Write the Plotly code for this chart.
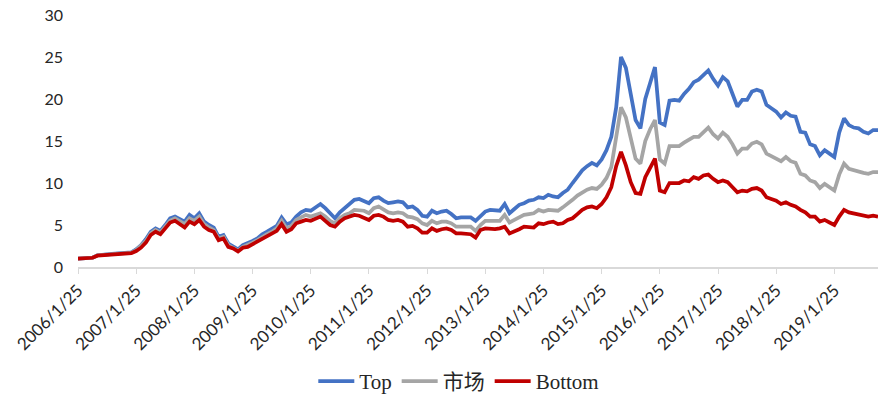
import plotly.graph_objects as go

years = list(range(2006, 2020))
dates = [f"{y}/{m}/25" for y in years for m in range(1, 13)][:166]
tick_labels = [f"{y}/1/25" for y in years]

top = [
    1.0, 1.0, 1.0, 1.1, 1.4, 1.5, 1.5, 1.55, 1.6, 1.65, 1.65, 1.75,
    2.1, 2.6, 3.3, 4.2, 4.6, 4.3, 5.0, 5.8, 6.0, 5.7, 5.4, 6.2,
    5.8, 6.4, 5.4, 5.0, 4.7, 3.6, 3.8, 2.8, 2.5, 2.1, 2.6, 2.8,
    3.1, 3.4, 3.9, 4.2, 4.5, 4.9, 5.9, 5.1, 5.3, 6.0, 6.5, 6.8,
    6.7, 7.1, 7.5, 7.0, 6.4, 5.8, 6.5, 7.0, 7.4, 8.0, 8.1, 7.9,
    7.6, 8.2, 8.3, 7.9, 7.6, 7.7, 7.8, 7.7, 7.1, 7.2, 6.8, 6.1,
    6.0, 6.7, 6.4, 6.6, 6.7, 6.3, 5.8, 5.9, 5.9, 5.9, 5.5, 6.1,
    6.6, 6.8, 6.8, 6.7, 7.5, 6.4, 6.9, 7.4, 7.6, 7.9, 8.0, 8.3,
    8.2, 8.6, 8.4, 8.3, 8.8, 9.2, 10.0, 10.8, 11.5, 12.0, 12.4, 12.1,
    12.8, 13.9, 15.5, 19.0, 25.0, 23.7, 20.5, 17.5, 16.5, 20.0, 21.9, 23.8,
    17.2, 16.9, 19.8, 19.9, 19.8, 20.6, 21.2, 22.0, 22.3, 22.8, 23.4, 22.4,
    21.6, 22.6, 22.1, 20.6, 19.1, 19.9, 19.9, 20.9, 21.1, 20.9, 19.3, 18.9,
    18.5, 17.8, 18.4, 18.0, 17.9, 16.1, 16.0, 14.6, 14.4, 13.3, 13.9, 13.5,
    13.1, 16.0, 17.7, 16.9, 16.6, 16.5, 16.1, 15.9, 16.3, 16.3,
]

market = [
    1.0, 1.0, 1.0, 1.1, 1.4, 1.45, 1.5, 1.5, 1.55, 1.6, 1.6, 1.7,
    2.0, 2.5, 3.1, 4.0, 4.4, 4.1, 4.8, 5.5, 5.8, 5.4, 5.1, 5.8,
    5.5, 6.0, 5.1, 4.7, 4.4, 3.4, 3.6, 2.6, 2.3, 1.95, 2.4, 2.6,
    2.9, 3.2, 3.6, 3.9, 4.2, 4.6, 5.5, 4.6, 4.9, 5.6, 5.9, 6.2,
    6.0, 6.2, 6.4, 6.0, 5.5, 5.2, 5.8, 6.2, 6.4, 6.8, 6.8, 6.7,
    6.4, 7.0, 7.2, 6.9, 6.5, 6.4, 6.5, 6.4, 6.0, 5.9, 5.7, 5.2,
    5.0, 5.5, 5.2, 5.4, 5.4, 5.2, 4.8, 4.8, 4.8, 4.8, 4.3, 5.0,
    5.5, 5.5, 5.4, 5.5, 6.2, 5.3, 5.6, 5.9, 6.2, 6.3, 6.4, 6.8,
    6.6, 6.8, 6.7, 6.7, 7.1, 7.5, 8.0, 8.5, 8.9, 9.2, 9.4, 9.3,
    9.8, 10.6, 11.9, 15.5, 19.0, 17.8, 15.1, 12.9, 12.3, 15.0, 16.4, 17.5,
    12.8, 12.3, 14.4, 14.4, 14.4, 14.8, 15.1, 15.5, 15.5, 16.0, 16.6, 15.8,
    15.3, 16.0, 15.5, 14.6, 13.5, 14.1, 14.1, 14.7, 14.9, 14.6, 13.5, 13.2,
    12.9, 12.6, 13.1, 12.6, 12.4, 11.1, 10.9, 10.3, 10.1, 9.4, 9.9, 9.5,
    9.1, 11.0, 12.3, 11.7, 11.5, 11.3, 11.2, 11.1, 11.3, 11.3,
]

bottom = [
    1.0, 1.0, 1.0, 1.1, 1.35, 1.4, 1.45, 1.5, 1.5, 1.55, 1.55, 1.65,
    1.9, 2.3, 2.9, 3.8, 4.2, 3.9, 4.6, 5.3, 5.5, 5.1, 4.7, 5.4,
    5.1, 5.6, 4.8, 4.4, 4.2, 3.2, 3.4, 2.4, 2.2, 1.85, 2.3, 2.4,
    2.7, 3.0, 3.4, 3.7, 3.9, 4.3, 5.1, 4.2, 4.5, 5.2, 5.4, 5.6,
    5.5, 5.7, 6.0, 5.5, 5.0, 4.8, 5.4, 5.8, 6.0, 6.2, 6.1, 5.9,
    5.6, 6.1, 6.2, 6.0, 5.6, 5.5, 5.6, 5.4, 4.8, 4.9, 4.6, 4.1,
    4.1, 4.6, 4.3, 4.5, 4.6, 4.4, 4.0, 4.0, 4.0, 3.9, 3.5, 4.4,
    4.6, 4.5, 4.5, 4.6, 4.8, 4.0, 4.2, 4.5, 4.8, 4.8, 4.7, 5.2,
    5.1, 5.3, 5.4, 5.1, 5.2, 5.6, 5.8, 6.3, 6.8, 7.1, 7.2, 7.0,
    7.5, 8.3, 9.5, 12.0, 13.7, 12.1, 10.1, 8.8, 8.7, 10.7, 11.9, 12.9,
    9.1, 8.9, 10.0, 10.0, 10.0, 10.3, 10.2, 10.7, 10.5, 10.9, 11.0, 10.5,
    10.1, 10.3, 10.1, 9.5, 8.9, 9.1, 9.0, 9.3, 9.4, 9.1, 8.3, 8.1,
    7.9, 7.5, 7.7, 7.4, 7.2, 6.8, 6.5, 6.0, 6.0, 5.4, 5.6, 5.3,
    5.0, 6.0, 6.8, 6.5, 6.4, 6.3, 6.1, 6.0, 6.1, 6.0,
]

series = [("Top", top, "#4472C4"), ("市场", market, "#A5A5A5"), ("Bottom", bottom, "#C00000")]

fig = go.Figure()
for name, vals, color in series:
    fig.add_trace(go.Scatter(
        x=dates, y=vals, name=name, mode="lines",
        line=dict(color=color, width=3.75),
    ))

fig.update_layout(
    width=894, height=402,
    margin=dict(l=78, r=16, t=15, b=135, autoexpand=False),
    plot_bgcolor="white", paper_bgcolor="white",
    showlegend=True,
    legend=dict(
        orientation="h", x=0.476, xanchor="center", y=-0.454, yanchor="middle",
        font=dict(family="Liberation Serif, Noto Sans CJK SC", size=21, color="#262626"),
        itemwidth=36, tracegroupgap=0,
    ),
)
fig.update_xaxes(
    type="category", categoryorder="array", categoryarray=dates,
    range=[0, len(dates) - 1], automargin=False,
    tickmode="array", tickvals=tick_labels, ticktext=tick_labels,
    tickangle=-45, ticklabeloverflow="allow",
    showline=True, linecolor="#D9D9D9", linewidth=1.5,
    ticks="outside", ticklen=5, tickcolor="#D9D9D9",
    showgrid=False, zeroline=False,
    tickfont=dict(family="Lato, Liberation Sans", size=17, color="#262626"),
)
fig.update_yaxes(
    range=[0, 30], dtick=5, tick0=0, automargin=False,
    showgrid=False, zeroline=False, showline=False,
    ticks="", ticklabelstandoff=14, ticklabeloverflow="allow",
    tickfont=dict(family="Lato, Liberation Sans", size=16, color="#262626"),
)

fig.write_html(
    "out.html",
    config={"displayModeBar": False},
    post_script="document.body.style.margin='0';document.body.style.overflow='hidden';",
)
